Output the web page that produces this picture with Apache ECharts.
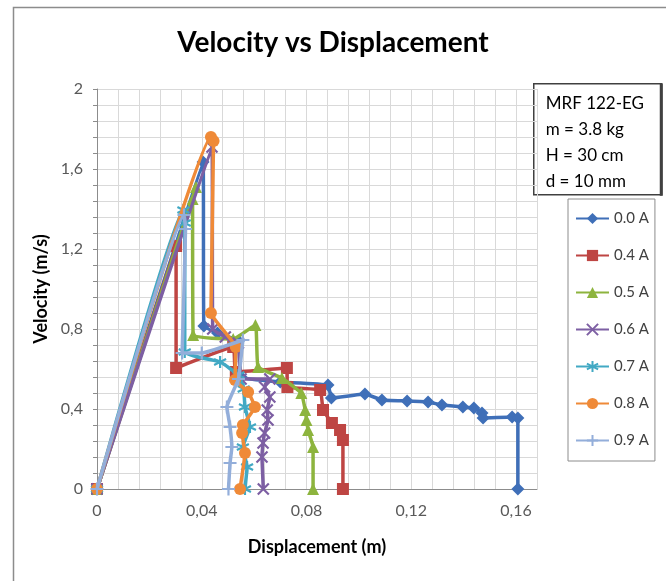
<!DOCTYPE html>
<html>
<head>
<meta charset="utf-8">
<script src="https://cdn.jsdelivr.net/npm/echarts@6/dist/echarts.min.js"></script>
<style>
  html, body { margin: 0; padding: 0; background: #fff; }
  #chart { width: 666px; height: 581px; }
</style>
</head>
<body>
<div id="chart"></div>
<script>
// 图例名称
const seriesNames = ['0.0 A', '0.4 A', '0.5 A', '0.6 A', '0.7 A', '0.8 A', '0.9 A']

// 位移 (m) / 速度 (m/s)
const disp00 = [0, 0.0405, 0.0408, 0.046, 0.054, 0.055, 0.070, 0.0882, 0.0895, 0.1023, 0.1088, 0.1184, 0.1264, 0.1317, 0.1397, 0.1439, 0.147, 0.1474, 0.1585, 0.1607, 0.1607]
const vel00 = [0, 1.635, 0.815, 0.78, 0.74, 0.56, 0.535, 0.52, 0.455, 0.475, 0.445, 0.44, 0.435, 0.42, 0.41, 0.405, 0.38, 0.355, 0.36, 0.355, 0]

const disp04 = [0, 0.0302, 0.0302, 0.052, 0.053, 0.0725, 0.0727, 0.0852, 0.0863, 0.0897, 0.0928, 0.0939, 0.0939]
const vel04 = [0, 1.215, 0.605, 0.71, 0.585, 0.605, 0.51, 0.495, 0.395, 0.33, 0.295, 0.245, 0]

const disp05 = [0, 0.0378, 0.0365, 0.0367, 0.052, 0.0605, 0.0615, 0.0706, 0.078, 0.0795, 0.080, 0.0806, 0.0825, 0.0825]
const vel05 = [0, 1.51, 1.45, 0.77, 0.75, 0.82, 0.61, 0.555, 0.48, 0.395, 0.345, 0.295, 0.21, 0]

const disp06 = [0, 0.0439, 0.0442, 0.049, 0.054, 0.055, 0.066, 0.064, 0.066, 0.065, 0.0653, 0.064, 0.0634, 0.063, 0.0635]
const vel06 = [0, 1.71, 0.80, 0.76, 0.73, 0.55, 0.55, 0.51, 0.46, 0.395, 0.345, 0.28, 0.23, 0.16, 0]

const disp07 = [0, 0.033, 0.0335, 0.0335, 0.047, 0.054, 0.056, 0.0565, 0.0584, 0.0557, 0.0573, 0.0565]
const vel07 = [0, 1.395, 1.33, 0.685, 0.635, 0.57, 0.50, 0.41, 0.31, 0.21, 0.11, 0]

const disp08 = [0, 0.0435, 0.0445, 0.0435, 0.053, 0.0527, 0.0577, 0.0603, 0.0557, 0.0554, 0.0565, 0.0546]
const vel08 = [0, 1.76, 1.74, 0.88, 0.71, 0.545, 0.485, 0.41, 0.32, 0.28, 0.18, 0]

const disp09 = [0, 0.0332, 0.0338, 0.0325, 0.040, 0.0557, 0.054, 0.0496, 0.0508, 0.0515, 0.0508, 0.0502]
const vel09 = [0, 1.37, 1.30, 0.68, 0.68, 0.745, 0.55, 0.41, 0.31, 0.21, 0.13, 0]

// 标注框文字
const noteLines = ['MRF 122-EG', 'm = 3.8 kg', 'H = 30 cm', 'd = 10 mm']

const FONT = 'Lato'
const colors = ['#3F6FB8', '#BE4543', '#8DB43E', '#7D5FA3', '#42A9C4', '#EF8A38', '#93AEDA']
// 标记形状
const symbols = [
  'diamond',
  'rect',
  'triangle',
  'path://M0,0L10,10M10,0L0,10',
  'path://M5,0L5,10M0.67,2.5L9.33,7.5M9.33,2.5L0.67,7.5',
  'circle',
  'path://M5,0L5,10M0,5L10,5'
]
const symbolSizes = [13, 12, 12, 11, 12, 12, 13]

const zip = (xs, ys) => xs.map((x, i) => [x, ys[i]])
const allData = [
  zip(disp00, vel00), zip(disp04, vel04), zip(disp05, vel05), zip(disp06, vel06),
  zip(disp07, vel07), zip(disp08, vel08), zip(disp09, vel09)
]

const isMultiple = (v, step) => Math.abs(v / step - Math.round(v / step)) < 1e-6
const comma = v => String(parseFloat(v.toFixed(3))).replace('.', ',')

const chart = echarts.init(document.getElementById('chart'))

const option = {
  animation: false,
  backgroundColor: '#fff',
  title: {
    text: 'Velocity vs Displacement',
    left: 'center',
    top: 24,
    textStyle: { fontFamily: FONT, fontSize: 28, fontWeight: 'bold', color: '#000' }
  },
  grid: { left: 97, top: 89, width: 440, height: 400 },
  legend: {
    orient: 'vertical',
    left: 568,
    top: 199,
    padding: [12, 6, 13, 7],
    itemWidth: 33,
    itemHeight: 14,
    itemGap: 22,
    borderColor: '#8c8c8c',
    borderWidth: 1,
    data: seriesNames,
    textStyle: { fontFamily: FONT, fontSize: 15, color: '#404040', lineHeight: 14 }
  },
  xAxis: {
    type: 'value',
    min: 0,
    max: 0.168,
    interval: 0.008,
    name: 'Displacement (m)',
    nameLocation: 'middle',
    nameGap: 49,
    nameTextStyle: { fontFamily: FONT, fontSize: 18, fontWeight: 'bold', color: '#000' },
    axisLine: { show: true, lineStyle: { color: '#8c8c8c', width: 1 } },
    axisTick: { show: false },
    axisLabel: {
      margin: 14,
      fontFamily: FONT, fontSize: 16, color: '#595959',
      formatter: v => isMultiple(v, 0.04) ? comma(v) : ''
    },
    splitLine: { show: true, lineStyle: { color: '#d9d9d9', width: 1 } }
  },
  yAxis: {
    type: 'value',
    min: 0,
    max: 2,
    interval: 0.08,
    name: 'Velocity (m/s)',
    nameLocation: 'middle',
    nameGap: 42,
    nameRotate: 90,
    nameTextStyle: { fontFamily: FONT, fontSize: 18, fontWeight: 'bold', color: '#000' },
    axisLine: { show: true, lineStyle: { color: '#8c8c8c', width: 1 } },
    axisTick: { show: true, length: 4, lineStyle: { color: '#8c8c8c' } },
    axisLabel: {
      margin: 14,
      fontFamily: FONT, fontSize: 16, color: '#595959',
      formatter: v => isMultiple(v, 0.4) ? comma(v) : ''
    },
    splitLine: { show: true, lineStyle: { color: '#d9d9d9', width: 1 } }
  },
  series: seriesNames.map((name, i) => ({
    name: name,
    type: 'line',
    data: allData[i],
    smooth: 0.1,
    symbol: symbols[i],
    symbolSize: symbolSizes[i],
    showAllSymbol: true,
    lineStyle: { color: colors[i], width: 3.5 },
    itemStyle: {
      color: colors[i],
      borderColor: colors[i],
      borderWidth: (i === 3 || i === 4 || i === 6) ? 2.2 : 0
    },
    z: 2 + i
  })),
  graphic: [
    // 外边框
    {
      type: 'rect', left: 11, top: 5, silent: true, z: -10,
      shape: { width: 700, height: 620 },
      style: { fill: 'none', stroke: '#8c8c8c', lineWidth: 1.5 }
    },
    // 参数标注框
    {
      type: 'group', left: 533, top: 83, z: 100,
      children: [
        {
          type: 'rect',
          shape: { x: 0, y: 0, width: 128, height: 111 },
          style: { fill: '#fff', stroke: '#404040', lineWidth: 1.5 }
        },
        {
          type: 'rect',
          shape: { x: 126, y: 0, width: 3, height: 112 },
          style: { fill: '#404040' }
        }
      ].concat(noteLines.map((t, i) => ({
        type: 'text',
        x: 12,
        y: 20 + i * 26,
        style: {
          text: t, fill: '#000', font: '17px ' + FONT,
          verticalAlign: 'middle', align: 'left'
        }
      })))
    }
  ]
}

chart.setOption(option)
</script>
</body>
</html>
